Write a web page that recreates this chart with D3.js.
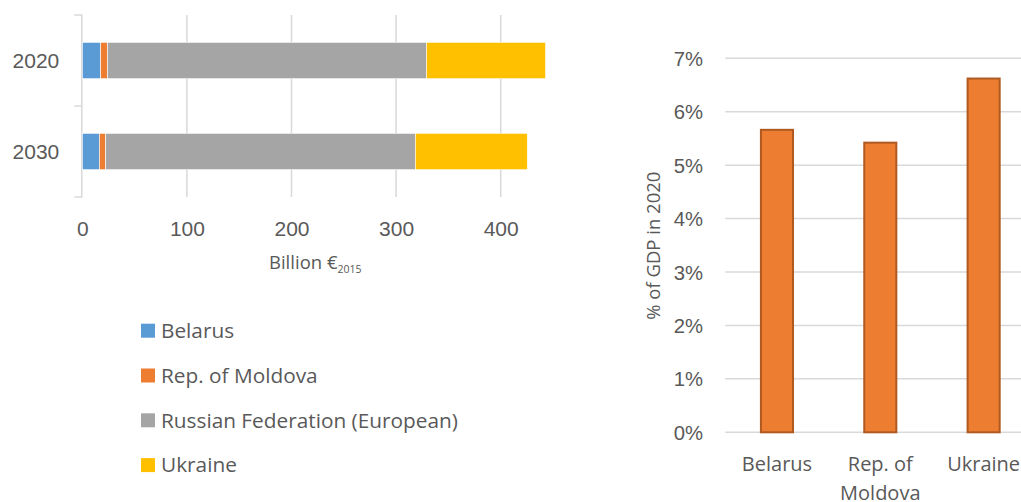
<!DOCTYPE html>
<html>
<head>
<meta charset="utf-8">
<script src="https://cdn.jsdelivr.net/npm/d3@7"></script>
<style>
  html, body { margin: 0; padding: 0; background: #fff; }
  svg { display: block; font-family: "Open Sans", Lato, sans-serif; }
</style>
</head>
<body>
<svg id="chart" width="1021" height="502"></svg>
<script>
// Stacked bars: energy-related value by country (billion €2015)
const years = ["2020", "2030"];
const countries = ["Belarus", "Rep. of Moldova", "Russian Federation (European)", "Ukraine"];
const belarus = [17.5, 16.3];
const moldova = [6.6, 6.1];
const russia = [304.9, 296.0];
const ukraine = [113.9, 107.0];
const xTicks = [0, 100, 200, 300, 400];

// Column chart: share of GDP in 2020
const gdpCountries = ["Belarus", "Rep. of Moldova", "Ukraine"];
const gdpShare = [0.0568, 0.0544, 0.0664];
const yTicks = [0, 0.01, 0.02, 0.03, 0.04, 0.05, 0.06, 0.07];

const colors = ["#5B9BD5", "#ED7D31", "#A5A5A5", "#FFC000"];
const textColor = "#595959";
const gridColor = "#D9D9D9";

const svg = d3.select("#chart");

// ---------- Left: stacked horizontal bars ----------
const rows = years.map((y, i) => ({
  year: y,
  [countries[0]]: belarus[i],
  [countries[1]]: moldova[i],
  [countries[2]]: russia[i],
  [countries[3]]: ukraine[i]
}));
const stack = d3.stack().keys(countries)(rows);

const x = d3.scaleLinear().domain([0, 400]).range([82.3, 500.7]);
const y = d3.scaleBand().domain(years).range([15, 197]).paddingInner(0.6).paddingOuter(0.3);

const left = svg.append("g");

// vertical gridlines
left.append("g").selectAll("line").data(xTicks.slice(1)).join("line")
  .attr("x1", d => x(d)).attr("x2", d => x(d))
  .attr("y1", 15).attr("y2", 197)
  .attr("stroke", gridColor).attr("stroke-width", 1.5);

// category axis with ticks between categories
const yAxis = d3.axisLeft(y).tickSize(0).tickFormat(d => d);
const yAxisG = left.append("g").attr("transform", `translate(${x(0)},0)`).call(yAxis);
yAxisG.select(".domain").remove();
yAxisG.selectAll("text").attr("fill", textColor).attr("font-size", 21).attr("x", -23).attr("dy", "0.35em");
left.append("line").attr("x1", x(0) - 0.5).attr("x2", x(0) - 0.5).attr("y1", 15).attr("y2", 197)
  .attr("stroke", gridColor).attr("stroke-width", 1.5);
const boundaries = [15, (y("2020") + y.bandwidth() + y("2030")) / 2, 197];
left.append("g").selectAll("line").data(boundaries).join("line")
  .attr("x1", x(0) - 8).attr("x2", x(0))
  .attr("y1", d => d).attr("y2", d => d)
  .attr("stroke", gridColor).attr("stroke-width", 1.5);

// bars
left.append("g").selectAll("g").data(stack).join("g")
  .attr("fill", (d, i) => colors[i])
  .selectAll("rect").data(d => d).join("rect")
  .attr("x", d => x(d[0]))
  .attr("width", d => x(d[1]) - x(d[0]))
  .attr("y", d => y(d.data.year))
  .attr("height", y.bandwidth())
  .attr("stroke", "#fff").attr("stroke-width", 0.6);

// value axis labels
const xAxis = d3.axisBottom(x).tickValues(xTicks).tickSize(0).tickFormat(d3.format("d"));
const xAxisG = left.append("g").attr("transform", "translate(0,228.5)").call(xAxis);
xAxisG.select(".domain").remove();
xAxisG.selectAll("text").attr("fill", textColor).attr("font-size", 21).attr("dy", "0.35em").attr("y", 0);

// axis title with subscript
const title = left.append("text").attr("x", 269).attr("y", 269)
  .attr("fill", textColor).attr("font-size", 18.5);
title.append("tspan").text("Billion €");
title.append("tspan").attr("font-size", 10.5).attr("dy", 4).text("2015");

// legend
const legend = left.append("g").selectAll("g").data(countries).join("g")
  .attr("transform", (d, i) => `translate(141,${330.7 + i * 44.8})`);
legend.append("rect").attr("x", 0).attr("y", -7).attr("width", 14).attr("height", 14)
  .attr("fill", (d, i) => colors[i]);
legend.append("text").attr("x", 20).attr("dy", "0.35em")
  .attr("fill", textColor).attr("font-size", 20.8).text(d => d);

// ---------- Right: column chart ----------
const yR = d3.scaleLinear().domain([0, 0.07]).range([432.3, 58.3]);
const xR = d3.scaleBand().domain(gdpCountries).range([725.3, 1035.3]).paddingInner(0.67).paddingOuter(0.335);

const right = svg.append("g");

right.append("g").selectAll("line").data(yTicks).join("line")
  .attr("x1", 725.3).attr("x2", 1035.3)
  .attr("y1", d => yR(d)).attr("y2", d => yR(d))
  .attr("stroke", gridColor).attr("stroke-width", 1.5);

const yAxisR = d3.axisLeft(yR).tickValues(yTicks).tickSize(0).tickFormat(d3.format(".0%"));
const yAxisRG = right.append("g").attr("transform", "translate(703,0)").call(yAxisR);
yAxisRG.select(".domain").remove();
yAxisRG.selectAll("text").attr("fill", textColor).attr("font-size", 20.3).attr("x", 0).attr("dy", "0.35em");

right.append("text")
  .attr("transform", "translate(653.5,245.7) rotate(-90)")
  .attr("text-anchor", "middle").attr("dy", "0.35em")
  .attr("fill", textColor).attr("font-size", 18.5)
  .text("% of GDP in 2020");

right.append("g").selectAll("rect").data(gdpShare).join("rect")
  .attr("x", (d, i) => xR(gdpCountries[i]) + 1)
  .attr("width", xR.bandwidth() - 2)
  .attr("y", d => yR(d) + 1)
  .attr("height", d => yR(0) - yR(d) - 1)
  .attr("fill", "#ED7D31")
  .attr("stroke", "#AE5A21").attr("stroke-width", 2);

// category labels, wrapped
const catLines = { "Belarus": ["Belarus"], "Rep. of Moldova": ["Rep. of", "Moldova"], "Ukraine": ["Ukraine"] };
const catG = right.append("g").selectAll("text").data(gdpCountries).join("text")
  .attr("text-anchor", "middle").attr("fill", textColor).attr("font-size", 20);
catG.selectAll("tspan").data(d => catLines[d].map(t => ({ t, c: d }))).join("tspan")
  .attr("x", d => xR(d.c) + xR.bandwidth() / 2)
  .attr("y", (d, i) => 471 + i * 28.5)
  .text(d => d.t);
</script>
</body>
</html>
